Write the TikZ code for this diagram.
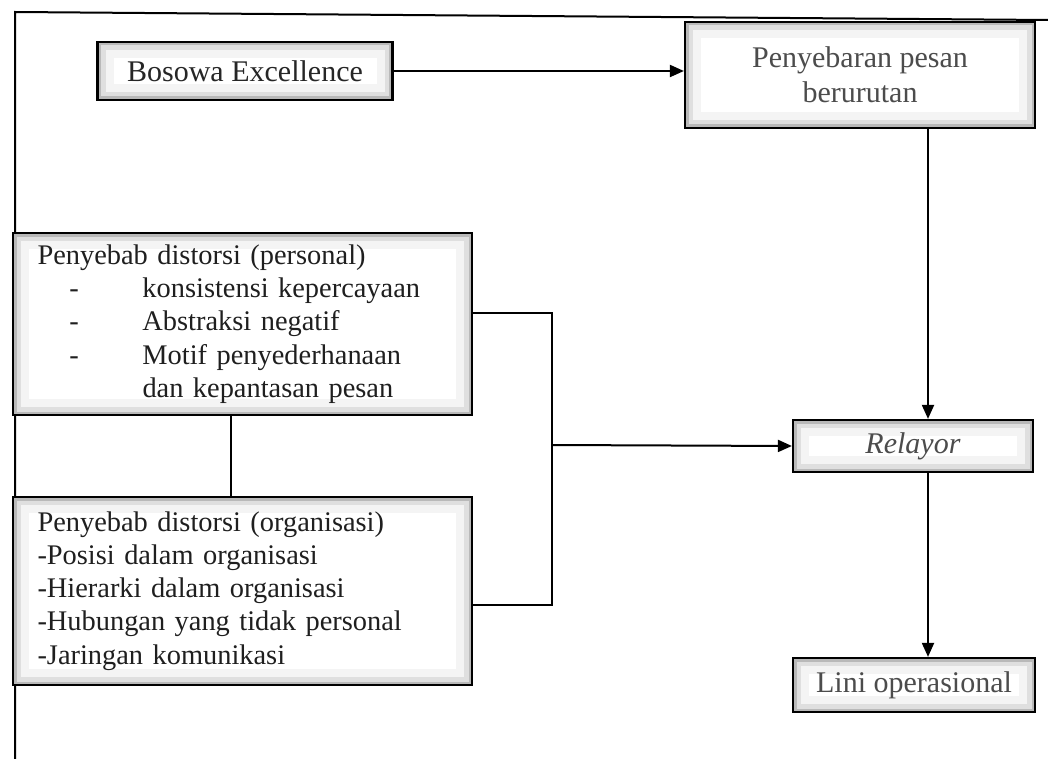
\documentclass[tikz,border=0pt]{standalone}
\usepackage{fontspec}
\setmainfont{Liberation Serif}
\usetikzlibrary{arrows.meta}

\begin{document}
\begin{tikzpicture}[x=0.5pt, y=-0.5pt,
    box/.style={rectangle, draw=black, line width=1.1pt, fill=white,
                path picture={
                  \draw[gray!9, line width=16pt] (path picture bounding box.south west) rectangle (path picture bounding box.north east);
                  \draw[gray!25, line width=8pt] (path picture bounding box.south west) rectangle (path picture bounding box.north east);
                  \draw[gray!55, line width=3.5pt] (path picture bounding box.south west) rectangle (path picture bounding box.north east);}},
    smallbox/.style={box, font=\fontsize{15}{17.5}\selectfont, text=black!70, align=center},
    listbox/.style={box, font=\fontsize{14.2}{16.6}\selectfont, text=black!88, align=left,
                    minimum width=229.5pt, text width=205pt, inner xsep=0pt},
    link/.style={line width=1pt},
    flow/.style={line width=1pt, -{Triangle[length=7pt, width=6pt]}}]
    \useasboundingbox (0,0) rectangle (1048,759);
    % frame of the scanned page
    \draw[line width=1pt] (15,759) -- (15,12) -- (1048,20);
    % top row
    \node[smallbox, minimum width=147.5pt, minimum height=29pt, text=black!85] (bosowa) at (245,71) {Bosowa Excellence};
    \node[smallbox, minimum width=175pt, minimum height=53pt] (spread) at (860,75) {Penyebaran pesan\\berurutan};
    % right column
    \node[smallbox, minimum width=120pt, minimum height=26pt] (relayor) at (913,446) {\textit{Relayor}};
    \node[smallbox, minimum width=121pt, minimum height=27pt] (lini) at (914,685) {Lini operasional};
    % causes of distortion
    \node[listbox, minimum height=91pt] (personal) at (242.5,324) {Penyebab distorsi (personal)\\
        \makebox[52.5pt][l]{\hspace*{16pt}-}konsistensi kepercayaan\\
        \makebox[52.5pt][l]{\hspace*{16pt}-}Abstraksi negatif\\
        \makebox[52.5pt][l]{\hspace*{16pt}-}Motif penyederhanaan\\
        \hspace*{52.5pt}dan kepantasan pesan};
    \node[listbox, minimum height=94pt] (organisasi) at (242.5,591) {Penyebab distorsi (organisasi)\\
        -Posisi dalam organisasi\\
        -Hierarki dalam organisasi\\
        -Hubungan yang tidak personal\\
        -Jaringan komunikasi};
    \coordinate (axis) at (928,0);
    \coordinate (join) at (552,445);
    % connectors
    \draw[flow] (bosowa) -- (spread.west |- bosowa);
    \draw[flow] (spread.south -| axis) -- (relayor.north -| axis);
    \draw[flow] (relayor.south -| axis) -- (lini.north -| axis);
    \draw[link] ([xshift=-6pt]personal.south) -- ([xshift=-6pt]organisasi.north);
    \draw[link] ([yshift=5.5pt]personal.east) -| (join) |- ([yshift=-7pt]organisasi.east);
    \draw[flow] (join) -- (relayor.west);
\end{tikzpicture}
\end{document}
